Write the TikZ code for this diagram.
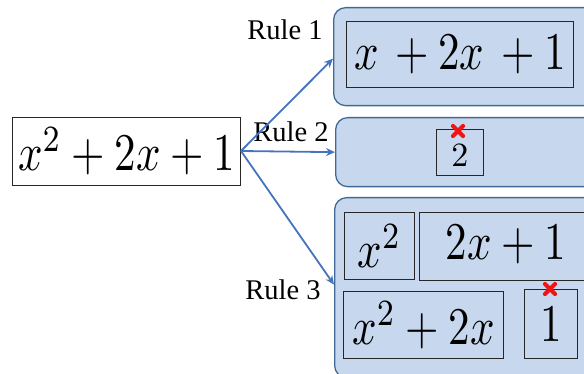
\documentclass[tikz,border=0pt]{standalone}
\usepackage{fontspec}
\usepackage{graphicx}
\setmainfont{Liberation Serif}
\newfontfamily\tnr{Liberation Serif}
\usetikzlibrary{arrows.meta}
\definecolor{fillc}{RGB}{199,215,238}
\definecolor{bordc}{RGB}{65,105,150}
\definecolor{arrc}{RGB}{70,115,190}
\definecolor{xred}{RGB}{240,20,20}
\newcommand{\hwtext}[1]{\scalebox{4.3}[5.3]{$#1$}}
\tikzset{
  outer/.style={draw=bordc, fill=fillc, rounded corners=12pt, line width=1.3pt, anchor=north west, inner sep=0pt},
  inner/.style={draw=black!85, line width=0.9pt, anchor=north west, inner sep=0pt},
  arr/.style={draw=arrc, line width=1.8pt, -{Stealth[length=9pt,width=8pt]}},
  lbl/.style={font=\tnr\fontsize{28.5}{32}\selectfont, inner sep=0pt},
  hw/.style={inner sep=0pt},
  redx/.style={draw=xred, line width=4.2pt, line cap=round}
}
\begin{document}
\begin{tikzpicture}[x=1pt, y=-1pt]
\useasboundingbox (0,0) rectangle (584,374);
\clip (0,0) rectangle (584,374);
% main expression
\node[inner, minimum width=228pt, minimum height=68pt] (m) at (12,117) {};
\node[hw] (mt) at (m.center) {\hwtext{x^2+2x+1}};
% rule 1
\node[outer, minimum width=270pt, minimum height=98pt] (r1) at (333,7) {};
\node[inner, minimum width=227pt, minimum height=66pt] (r1a) at (346,21) {};
\node[hw] (r1t) at (r1a.center) {\hwtext{x\,+2x\,+1}};
% rule 2
\node[outer, minimum width=270pt, minimum height=69pt] (r2) at (335,117) {};
\node[inner, minimum width=47pt, minimum height=46pt] (r2a) at (436,129) {};
\node[hw] (r2t) at ([yshift=-3pt]r2a.center) {\scalebox{3.4}{$2$}};
\coordinate (x1) at (458,131);
\draw[redx] (x1) +(-5,-5) -- +(5,5) +(-5,5) -- +(5,-5);
% rule 3
\node[outer, minimum width=270pt, minimum height=180pt] (r3) at (334,197) {};
\node[inner, minimum width=70pt, minimum height=67pt] (r3a) at (344,212) {};
\node[hw] (r3at) at (r3a.center) {\hwtext{x^2}};
\node[inner, minimum width=180pt, minimum height=68pt] (r3b) at (419,212) {};
\node[hw] (r3bt) at (506,245) {\hwtext{2x+1}};
\node[inner, minimum width=160pt, minimum height=67pt] (r3c) at (343,291) {};
\node[hw] (r3ct) at (r3c.center) {\hwtext{x^2+2x}};
\node[inner, minimum width=53pt, minimum height=69pt] (r3d) at (524,289) {};
\node[hw] (r3dt) at (r3d.center) {\hwtext{1}};
\coordinate (x2) at (550,289);
\draw[redx] (x2) +(-5,-5) -- +(5,5) +(-5,5) -- +(5,-5);
% labels
\node[lbl] (l1) at (285,30) {Rule 1};
\node[lbl] (l2) at (291,132) {Rule 2};
\node[lbl] (l3) at (283,290) {Rule 3};
% arrows
\coordinate (src) at (241,151);
\draw[arr] (src) -- ([yshift=-2pt]r1.west);
\draw[arr] (src) -- (r2.west);
\draw[arr] (src) -- ([yshift=3pt]r3.west);
\end{tikzpicture}
\end{document}
